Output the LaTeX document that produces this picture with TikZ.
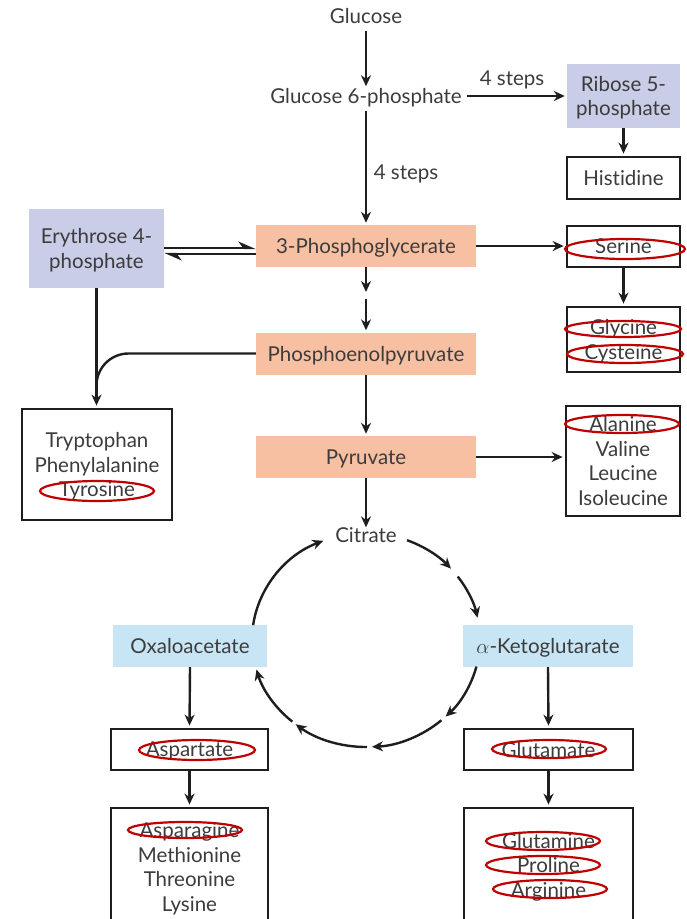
\documentclass[tikz,border=0pt]{standalone}
\usepackage{fontspec}
\setmainfont{Lato}[Ligatures=NoCommon]
\usetikzlibrary{arrows.meta,calc}
\definecolor{txt}{HTML}{3C3C3C}
\definecolor{salmon}{HTML}{F8C0A2}
\definecolor{lav}{HTML}{C9CDE7}
\definecolor{lblue}{HTML}{C8E5F6}
\definecolor{ered}{HTML}{C00000}
\definecolor{edge}{HTML}{1E1E1E}
\begin{document}
\begin{tikzpicture}[x=1pt,y=1pt,
  font=\fontsize{20.5}{24.5}\selectfont, text=txt,
  arr/.style={line width=2.4pt, draw=edge, -{Stealth[length=11pt,width=10pt]}, shorten >=2pt},
  ln/.style={line width=2.4pt, draw=edge},
  harp/.style={line width=2.2pt, draw=edge, -{Stealth[harpoon,length=15pt,width=13pt]}},
  fbox/.style={inner sep=0pt, align=center, text depth=0pt},
  pbox/.style={fbox, fill=salmon, minimum width=220, minimum height=42},
  vbox/.style={fbox, fill=lav},
  bbox/.style={fbox, fill=lblue, minimum height=42},
  wbox/.style={fbox, draw=edge, line width=2.8pt, fill=white},
  ring/.style={draw=ered, line width=2.2pt},
  lbl/.style={inner sep=0pt, text depth=0pt}]
\useasboundingbox (0,0) rectangle (687,-919);

% main column
\node[lbl] (glc) at (366,-16) {Glucose};
\node[lbl] (g6p) at (366,-96) {Glucose 6-phosphate};
\node[vbox, minimum width=113, minimum height=64] (r5p) at (623.5,-96) {Ribose 5-\\phosphate};
\node[wbox, minimum width=113, minimum height=42] (his) at (623.5,-178) {Histidine};
\node[pbox] (pg3) at (366,-246) {3-Phosphoglycerate};
\node[vbox, minimum width=135, minimum height=79] (e4p) at (96.5,-248.5) {Erythrose 4-\\phosphate};
\node[wbox, minimum width=113, minimum height=41] (ser) at (623.5,-246.5) {Serine};
\node[wbox, minimum width=113, minimum height=65] (gly) at (623.5,-339.5) {Glycine\\Cysteine};
\node[pbox] (pep) at (366,-353.5) {Phosphoenolpyruvate};
\node[wbox, minimum width=150, minimum height=111] (trp) at (97,-464.5) {Tryptophan\\Phenylalanine\\Tyrosine};
\node[pbox] (pyr) at (366,-457) {Pyruvate};
\node[wbox, minimum width=114, minimum height=110] (ala) at (623,-461) {Alanine\\Valine\\Leucine\\Isoleucine};
\node[lbl] (cit) at (366,-535) {Citrate};
\node[bbox, minimum width=154] (oaa) at (190,-646) {Oxaloacetate};
\node[bbox, minimum width=170] (akg) at (548,-646) {$\alpha$-Ketoglutarate};
\node[wbox, minimum width=157, minimum height=41] (asp) at (189.5,-749.5) {Aspartate};
\node[wbox, minimum width=169, minimum height=41] (glu) at (548.5,-749.5) {Glutamate};
\node[wbox, minimum width=157, minimum height=118] (asn) at (189.5,-867) {Asparagine\\Methionine\\Threonine\\Lysine};
\node[wbox, minimum width=169, minimum height=114] (gln) at (548.5,-865) {Glutamine\\Proline\\Arginine};

% step labels
\node[lbl] (s1) at (512,-78) {4 steps};
\node[lbl] (s2) at (406,-172) {4 steps};

% connectors
\draw[arr] (glc.south) ++(0,-7) -- (g6p.north);
\draw[arr] (g6p.east) ++(5,0) -- (r5p.west);
\draw[arr] (g6p.south) ++(0,-7) -- (pg3.north);
\draw[arr] (r5p.south) -- (his.north);
\draw[arr] (pg3.east) -- (pg3.east -| ser.west);
\draw[arr] (ser.south) -- (gly.north);
\coordinate (mid) at (366,-294);
\draw[arr] (pg3.south) -- (mid);
\draw[arr] ($(mid)+(0,-5)$) -- (pep.north);
\draw[arr] (pep.south) -- (pyr.north);
\draw[arr] (pyr.east) -- (pyr.east -| ala.west);
\draw[arr] (pyr.south) -- ($(cit.north)+(0,-2)$);
\coordinate (h1) at (0,-248);
\coordinate (h2) at (0,-254);
\draw[harp] (e4p.east |- h1) -- (pg3.west |- h1);
\draw[harp] (pg3.west |- h2) -- (e4p.east |- h2);
\draw[arr] (e4p.south) -- (e4p.south |- trp.north);
\coordinate (jn) at ($(e4p.south |- pep.west)+(0,-48)$);
\draw[ln, rounded corners=32] (pep.west) -- (e4p.south |- pep.west) -- (jn);
\draw[arr] (oaa.south) -- (asp.north);
\draw[arr] (akg.south) -- (glu.north);
\draw[arr] (asp.south) -- (asn.north);
\draw[arr] (glu.south) -- (gln.north);

% citric acid cycle
\coordinate (c) at (366,-640);
\foreach \a/\b in {172/112, 68.9/41.8, 36.4/12, -14.4/-45.7, -48.6/-87, -89.5/-128.1, -130.3/-164}
  \draw[line width=2.4pt, draw=edge, -{Stealth[length=11pt,width=10pt]}]
    ($(c)+(\a:114 and 107)$) arc[start angle=\a, end angle=\b, x radius=114, y radius=107];

% red highlight ellipses
\draw[ring] (625,-249) ellipse[x radius=60, y radius=10];
\draw[ring] (623,-329) ellipse[x radius=58, y radius=8];
\draw[ring] (625,-354) ellipse[x radius=58, y radius=9];
\draw[ring] (97,-491) ellipse[x radius=57, y radius=10];
\draw[ring] (622,-424) ellipse[x radius=57, y radius=9];
\draw[ring] (197,-750) ellipse[x radius=58, y radius=10];
\draw[ring] (185,-830) ellipse[x radius=57, y radius=8];
\draw[ring] (549,-749) ellipse[x radius=57, y radius=9];
\draw[ring] (543,-841) ellipse[x radius=57, y radius=9];
\draw[ring] (543,-865) ellipse[x radius=57, y radius=9];
\draw[ring] (550,-889) ellipse[x radius=57, y radius=9];
\end{tikzpicture}
\end{document}
